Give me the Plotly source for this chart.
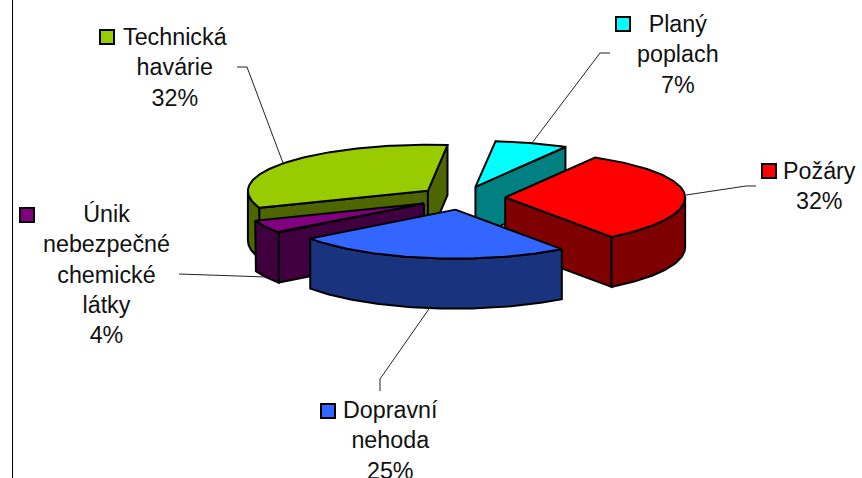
import numpy as np
import plotly.graph_objects as go

# --- data, clockwise from the start angle ---
categories = ["Požáry", "Dopravní nehoda", "Únik nebezpečné chemické látky", "Technická havárie", "Planý poplach"]
values = [31.6, 25, 4.4, 32.4, 6.6]
top_colors = ["#FF0000", "#3366FF", "#800080", "#99CC00", "#00FFFF"]
side_colors = ["#7F0000", "#1A337F", "#400040", "#4D6600", "#008080"]
label_lines = [["Požáry", "32%"], ["Dopravní", "nehoda", "25%"],
               ["Únik", "nebezpečné", "chemické", "látky", "4%"],
               ["Technická", "havárie", "32%"], ["Planý", "poplach", "7%"]]
draw_order = [4, 3, 2, 0, 1]

# --- projection of the tilted, exploded pie ---
CX, CY = 462, 198
RX, RY, RY_BACK = 180, 49, 46
DEPTH = 50
EXPLODE = 0.24
START = 60
label_centers = [(819, 156), (390, 394.5), (106, 199), (175, 22), (678, 9)]
key_pos = [(769, 171), (328, 411), (27, 215), (107, 37), (623, 24)]
leaders = [[(756, 186), (746, 186), (686, 195)],
           [(380, 391), (380, 379), (431, 306)],
           [(179, 274), (267, 277)],
           [(237, 67), (247, 67), (283, 163)],
           [(610, 53), (600, 53), (532, 143)]]

fig = go.Figure()


def poly(xs, ys, color):
    fig.add_trace(go.Scatter(x=list(xs) + [xs[0]], y=list(ys) + [ys[0]], mode="lines", fill="toself",
                             fillcolor=color, line=dict(color="black", width=2), hoverinfo="skip",
                             showlegend=False))


def pt(ax, ay, deg):
    r = np.radians(deg)
    s = np.sin(r)
    return ax + RX * np.cos(r), ay - np.where(s > 0, RY_BACK, RY) * s


bounds = START - np.cumsum([0] + values) * 3.6
for i in draw_order:
    ts, te = bounds[i], bounds[i + 1]
    mid = np.radians((ts + te) / 2)
    ax = CX + EXPLODE * RX * np.cos(mid)
    ay = CY - EXPLODE * RY * np.sin(mid)
    # cut faces turned toward the viewer
    for t, visible in ((ts, np.cos(np.radians(ts)) < 0), (te, np.cos(np.radians(te)) > 0)):
        if visible:
            x, y = pt(ax, ay, t)
            poly([ax, float(x), float(x), ax], [ay, float(y), float(y) + DEPTH, ay + DEPTH], side_colors[i])
    # outer wall: only the part of the rim in front
    hi, lo = min(ts, 0), max(te, -180)
    if hi > lo:
        arc = np.linspace(hi, lo, 80)
        x, y = pt(ax, ay, arc)
        poly(np.r_[x, x[::-1]], np.r_[y, y[::-1] + DEPTH], side_colors[i])
    # top face
    arc = np.linspace(ts, te, 120)
    x, y = pt(ax, ay, arc)
    poly(np.r_[ax, x], np.r_[ay, y], top_colors[i])

for i in range(len(values)):
    lx, ly = zip(*leaders[i])
    fig.add_trace(go.Scatter(x=lx, y=ly, mode="lines", line=dict(color="#222222", width=1),
                             hoverinfo="skip", showlegend=False))
    fig.add_trace(go.Scatter(x=[key_pos[i][0]], y=[key_pos[i][1]], mode="markers", hoverinfo="skip",
                             showlegend=False,
                             marker=dict(symbol="square", size=14, color=top_colors[i],
                                         line=dict(color="black", width=2))))
    fig.add_annotation(x=label_centers[i][0], y=label_centers[i][1], text="<br>".join(label_lines[i]),
                       showarrow=False, xanchor="center", yanchor="top", align="center",
                       font=dict(family="Liberation Sans", size=23.3, color="#111111"))

fig.add_shape(type="line", x0=12.5, x1=12.5, y0=0, y1=478, line=dict(color="black", width=1))

fig.update_layout(width=862, height=478, margin=dict(l=0, r=0, t=0, b=0),
                  paper_bgcolor="white", plot_bgcolor="white",
                  xaxis=dict(range=[0, 862], visible=False, fixedrange=True),
                  yaxis=dict(range=[478, 0], visible=False, fixedrange=True))
fig.write_html("out.html", config={"displayModeBar": False},
               post_script="document.body.style.margin='0';document.body.style.overflow='hidden';")
